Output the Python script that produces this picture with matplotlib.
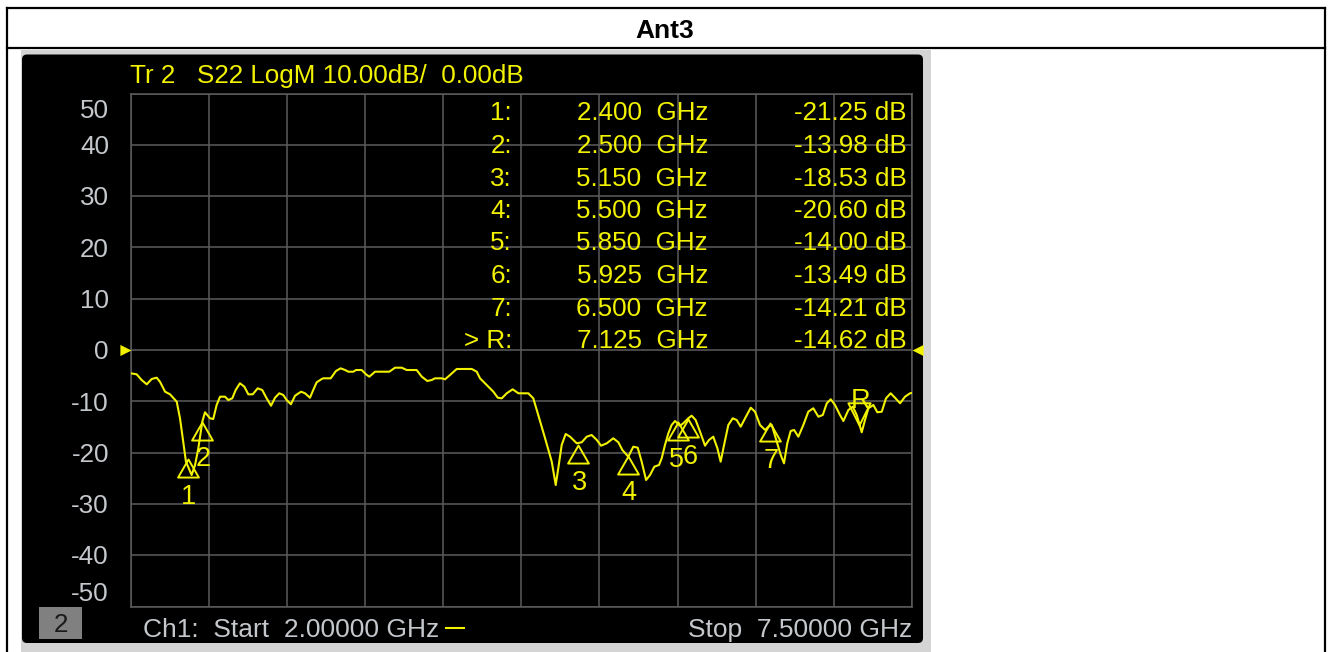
import numpy as np
import matplotlib.pyplot as plt
from matplotlib.patches import Rectangle, FancyBboxPatch
from matplotlib.lines import Line2D
from matplotlib.path import Path
from matplotlib.transforms import Affine2D

plt.rcParams['font.family'] = ['Liberation Sans', 'DejaVu Sans']

# S22 trace (GHz, dB)
freq = [2.000, 2.042, 2.077, 2.113, 2.148, 2.183, 2.206, 2.242, 2.277, 2.324,
        2.347, 2.370, 2.389, 2.429, 2.453, 2.476, 2.504, 2.523, 2.558, 2.581,
        2.605, 2.629, 2.664, 2.687, 2.715, 2.739, 2.769, 2.800, 2.828, 2.859,
        2.894, 2.926, 2.957, 2.988, 3.016, 3.046, 3.074, 3.098, 3.128, 3.157,
        3.199, 3.227, 3.262, 3.285, 3.309, 3.345, 3.356, 3.408, 3.445, 3.478,
        3.509, 3.532, 3.567, 3.586, 3.626, 3.656, 3.680, 3.720, 3.767, 3.820,
        3.861, 3.908, 3.943, 4.013, 4.049, 4.088, 4.119, 4.142, 4.189, 4.213,
        4.248, 4.295, 4.401, 4.436, 4.459, 4.506, 4.553, 4.584, 4.612, 4.647,
        4.689, 4.729, 4.799, 4.834, 4.869, 4.917, 4.964, 4.992, 5.010, 5.034,
        5.062, 5.093, 5.140, 5.175, 5.210, 5.245, 5.281, 5.311, 5.351, 5.397,
        5.433, 5.461, 5.503, 5.538, 5.569, 5.597, 5.628, 5.656, 5.686, 5.719,
        5.738, 5.761, 5.785, 5.808, 5.832, 5.867, 5.890, 5.925, 5.949, 5.977,
        6.008, 6.043, 6.071, 6.101, 6.130, 6.153, 6.177, 6.207, 6.238, 6.266,
        6.294, 6.325, 6.365, 6.395, 6.430, 6.466, 6.489, 6.513, 6.548, 6.576,
        6.599, 6.622, 6.646, 6.670, 6.700, 6.735, 6.770, 6.805, 6.841, 6.872,
        6.900, 6.928, 6.958, 6.993, 7.017, 7.052, 7.083, 7.111, 7.146, 7.169,
        7.193, 7.228, 7.256, 7.287, 7.317, 7.350, 7.380, 7.416, 7.451, 7.486,
        7.500]
s22 = [-4.54, -4.74, -5.85, -6.69, -5.65, -5.40, -6.18, -8.13, -8.64, -10.08,
       -13.31, -17.88, -21.77, -24.37, -22.42, -19.16, -13.98, -12.14, -13.31, -13.45,
       -10.72, -9.10, -9.10, -9.75, -9.42, -7.80, -6.49, -7.15, -8.64, -8.64,
       -7.47, -7.80, -9.42, -10.86, -9.30, -8.44, -8.77, -9.75, -10.58, -8.91,
       -8.13, -8.44, -9.30, -7.80, -6.30, -5.65, -5.52, -5.52, -4.09, -3.57,
       -3.90, -4.23, -4.23, -3.90, -3.90, -4.74, -5.20, -4.23, -4.23, -4.23,
       -3.45, -3.45, -3.90, -3.90, -5.20, -6.04, -5.85, -5.52, -5.52, -5.71,
       -4.87, -3.70, -3.70, -4.23, -5.52, -6.82, -8.13, -9.30, -9.42, -8.44,
       -7.66, -8.44, -8.44, -9.42, -12.67, -17.21, -21.77, -26.32, -23.06, -18.52,
       -16.37, -16.90, -18.19, -17.99, -16.90, -16.57, -17.54, -18.65, -18.19, -17.21,
       -17.99, -19.49, -20.80, -18.85, -19.04, -21.77, -25.34, -24.37, -22.75, -22.42,
       -21.11, -18.52, -16.24, -14.62, -13.84, -14.76, -14.29, -13.31, -12.81, -13.65,
       -15.93, -18.65, -17.54, -16.90, -19.16, -21.77, -18.52, -14.62, -13.31, -13.65,
       -14.95, -13.31, -11.25, -12.03, -14.62, -15.59, -14.95, -14.62, -17.88, -20.47,
       -22.09, -18.19, -15.79, -15.59, -16.90, -14.62, -12.03, -11.36, -13.00, -12.67,
       -10.39, -9.61, -10.72, -12.67, -13.84, -11.70, -11.05, -12.67, -16.04, -13.65,
       -11.36, -10.72, -12.14, -12.03, -9.42, -8.44, -9.30, -10.39, -9.10, -8.44,
       -8.38]

marker_names = ['1', '2', '3', '4', '5', '6', '7', 'R']
marker_freq = [2.400, 2.500, 5.150, 5.500, 5.850, 5.925, 6.500, 7.125]
marker_db = [-21.25, -13.98, -18.53, -20.60, -14.00, -13.49, -14.21, -14.62]

y_ticks = [50, 40, 30, 20, 10, 0, -10, -20, -30, -40, -50]
f_start, f_stop = 2.0, 7.5
title = 'Ant3'
header = 'Tr 2   S22 LogM 10.00dB/  0.00dB'

YEL = '#f2f200'
TXT = '#c4c8cc'
GRID = '#5c5c5c'
FS = 18.7

W, H = 1329, 652
fig = plt.figure(figsize=(W / 100, H / 100), dpi=100)
fig.patch.set_facecolor('white')
# pixel coords measured from the top-left corner
pix = Affine2D().scale(1 / W, -1 / H).translate(0, 1) + fig.transFigure

# document table frame around the screenshot
for xs, ys in [([7, 7], [8, 652]), ([7, 1325], [8, 8]),
               ([1325, 1325], [8, 652]), ([7, 1325], [48, 48])]:
    fig.add_artist(Line2D(xs, ys, transform=pix, color='black', lw=1.6))
fig.text(665, 37.5, title, transform=pix, ha='center', va='baseline',
         fontsize=19, fontweight='bold', color='black')

fig.add_artist(Rectangle((21, 49.5), 910, 603, transform=pix,
                         facecolor='#d4d4d4', edgecolor='none', zorder=-2))
fig.add_artist(FancyBboxPatch((22, 54.5), 901, 588.5, transform=pix,
                              boxstyle='round,pad=0,rounding_size=5',
                              facecolor='black', edgecolor='none', zorder=-1))

# grid area
L, R, T, B = 130.7, 912, 93.5, 606.5
ax = fig.add_axes([L / W, 1 - B / H, (R - L) / W, (B - T) / H])
ax.set_facecolor('black')
ax.set_xlim(f_start, f_stop)
ax.set_ylim(-50, 50)
ax.set_xticks(np.linspace(f_start, f_stop, 11))
ax.set_yticks(y_ticks)
ax.tick_params(length=0, labelleft=False, labelbottom=False)
ax.grid(True, color=GRID, lw=1.1)
for sp in ax.spines.values():
    sp.set_color(GRID)
    sp.set_linewidth(1.1)

ax.plot(freq, s22, color=YEL, lw=1.5, zorder=3)

# y scale labels (end labels pulled inside the frame)
for v in y_ticks:
    dy = -9.3
    if v == 50:
        dy = -24.6
    elif v == -50:
        dy = 5.2
    ax.annotate(str(v), xy=(0, v), xycoords=('axes fraction', 'data'),
                xytext=(-21.7, dy), textcoords='offset pixels',
                ha='right', va='baseline', fontsize=FS, color=TXT,
                annotation_clip=False)

# reference level arrows
tri_r = Path([(0, 0), (-1, 0.5), (-1, -0.5), (0, 0)],
             [Path.MOVETO, Path.LINETO, Path.LINETO, Path.CLOSEPOLY])
tri_l = Path([(0, 0), (1, 0.5), (1, -0.5), (0, 0)],
             [Path.MOVETO, Path.LINETO, Path.LINETO, Path.CLOSEPOLY])
ax.plot([f_start], [0], marker=tri_r, ms=16, color=YEL, mec='none',
        ls='none', clip_on=False, zorder=4)
ax.plot([f_stop], [0], marker=tri_l, ms=16, color=YEL, mec='none',
        ls='none', clip_on=False, zorder=4)

# marker triangles with apex on the marker point
tri_up = Path([(0, 0), (-0.576, -1), (0.576, -1), (0, 0)],
              [Path.MOVETO, Path.LINETO, Path.LINETO, Path.CLOSEPOLY])
tri_dn = Path([(0, 0), (-0.5, 1), (0.5, 1), (0, 0)],
              [Path.MOVETO, Path.LINETO, Path.LINETO, Path.CLOSEPOLY])
for name, f, d in zip(marker_names, marker_freq, marker_db):
    if name == 'R':
        ax.plot([f], [d], marker=tri_dn, ms=32, mfc='none', mec=YEL,
                mew=1.4, ls='none', zorder=4)
        ax.annotate(name, (f, d), xytext=(2, 17.3), textcoords='offset pixels',
                    ha='center', va='baseline', fontsize=19.5, color=YEL)
    else:
        ax.plot([f], [d], marker=tri_up, ms=26, mfc='none', mec=YEL,
                mew=1.4, ls='none', zorder=4)
        dx = -1 if name == '5' else (2 if name == '6' else 1)
        ax.annotate(name, (f, d), xytext=(dx, -44.7), textcoords='offset pixels',
                    ha='center', va='baseline', fontsize=19.5, color=YEL)

# marker readout table
for i, (name, f, d) in enumerate(zip(marker_names, marker_freq, marker_db)):
    yb = 120.5 + i * 32.5
    lab = '> R:' if name == 'R' else name + ':'
    fig.text(512, yb, lab, transform=pix, ha='right', va='baseline',
             fontsize=FS, color=YEL, zorder=5)
    fig.text(708, yb, f'{f:.3f}  GHz', transform=pix, ha='right',
             va='baseline', fontsize=FS, color=YEL, zorder=5)
    fig.text(907, yb, f'{d:.2f} dB', transform=pix, ha='right',
             va='baseline', fontsize=FS, color=YEL, zorder=5)

# header and footer of the screen
fig.text(130, 83, header, transform=pix, ha='left', va='baseline',
         fontsize=FS, color=YEL)
fig.text(143, 637.3, f'Ch1:  Start  {f_start:.5f} GHz', transform=pix,
         ha='left', va='baseline', fontsize=19, color=TXT)
fig.add_artist(Line2D([446, 464], [628, 628], transform=pix, color=YEL, lw=1.5))
fig.text(912, 637.3, f'Stop  {f_stop:.5f} GHz', transform=pix,
         ha='right', va='baseline', fontsize=19, color=TXT)
fig.add_artist(Rectangle((38.7, 606.7), 43.6, 32.6, transform=pix,
                         facecolor='#808080', edgecolor='none'))
fig.text(60.5, 632.3, '2', transform=pix, ha='center', va='baseline',
         fontsize=FS, color='#1a1a1a')

fig.savefig('out.png', dpi=100)
